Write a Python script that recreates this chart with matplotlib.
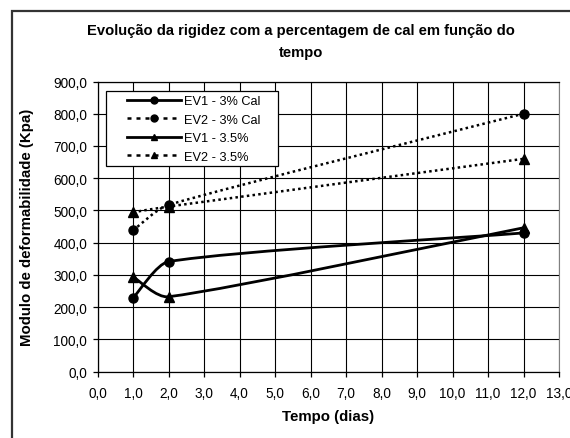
import numpy as np
import matplotlib
matplotlib.use("Agg")
import matplotlib.pyplot as plt
from matplotlib.path import Path
from matplotlib.patches import PathPatch, Rectangle
from matplotlib.lines import Line2D
from matplotlib.ticker import FuncFormatter, MultipleLocator

plt.rcParams['font.family'] = ['Liberation Sans', 'DejaVu Sans']

# tempo (dias) e modulo de deformabilidade (Kpa)
dias = [1, 2, 12]
ev1_3 = [228, 341, 430]
ev2_3 = [438, 517, 800]
ev1_35 = [294, 232, 446]
ev2_35 = [494, 512, 660]

series = [
    ("EV1 - 3% Cal", ev1_3, 'o', 'solid'),
    ("EV2 - 3% Cal", ev2_3, 'o', 'dotted'),
    ("EV1 - 3.5%", ev1_35, '^', 'solid'),
    ("EV2 - 3.5%", ev2_35, '^', 'dotted'),
]

W, H = 570, 439
fig = plt.figure(figsize=(W / 100, H / 100), dpi=100)
ax = fig.add_axes([97.5 / W, (H - 372.5) / H, (559 - 97.5) / W, 290 / H])
ax.set_xlim(0, 13)
ax.set_ylim(0, 900)

# pixel scale of each axis, used so the smoothing works in screen space
sx = (559 - 97.5) / 13.0
sy = 290 / 900.0


def smooth_path(xs, ys):
    # piecewise cubic bezier through the points (spreadsheet style smoothing)
    P = np.column_stack([np.array(xs, float) * sx, np.array(ys, float) * sy])
    n = len(P)
    verts = [P[0]]
    codes = [Path.MOVETO]
    for i in range(n - 1):
        p0 = P[max(i - 1, 0)]
        p1 = P[i]
        p2 = P[i + 1]
        p3 = P[min(i + 2, n - 1)]
        dx = p2[0] - p1[0]
        d1 = (p2 - p0) / 6.0
        d2 = (p3 - p1) / 6.0
        # keep control points inside the segment horizontally
        if abs(d1[0]) > dx / 3:
            d1 = d1 * (dx / 3) / abs(d1[0])
        if abs(d2[0]) > dx / 3:
            d2 = d2 * (dx / 3) / abs(d2[0])
        c1 = p1 + d1
        c2 = p2 - d2
        verts += [c1, c2, p2]
        codes += [Path.CURVE4] * 3
    verts = np.array(verts) / np.array([sx, sy])
    return Path(verts, codes)


dot_style = (0, (1.0, 1.3))
handles = []
for label, vals, mk, style in series:
    ls = '-' if style == 'solid' else dot_style
    lw = 2.0 if style == 'solid' else 1.8
    patch = PathPatch(smooth_path(dias, vals), fill=False, edgecolor='black',
                      linewidth=lw, linestyle=ls, zorder=3, capstyle='butt')
    ax.add_patch(patch)
    ax.plot(dias, vals, linestyle='none', marker=mk, color='black',
            markersize=6.5, zorder=4)
    handles.append(Line2D([], [], color='black', linewidth=lw,
                          linestyle='-' if style == 'solid' else (0, (1.6, 2.0)),
                          marker=mk, markersize=5, label=label))

ax.xaxis.set_major_locator(MultipleLocator(1))
ax.yaxis.set_major_locator(MultipleLocator(100))
ax.xaxis.set_major_formatter(FuncFormatter(lambda v, p: f"{v:.1f}".replace('.', ',')))
ax.yaxis.set_major_formatter(FuncFormatter(lambda v, p: f"{v:.1f}".replace('.', ',')))
ax.grid(True, color='black', linewidth=0.8)
ax.set_axisbelow(True)
ax.tick_params(direction='out', length=3.5, width=0.9, labelsize=9.8)
ax.tick_params(axis='x', pad=7)
ax.tick_params(axis='y', pad=4)
for s in ['left', 'bottom', 'top']:
    ax.spines[s].set_linewidth(0.9)
ax.spines['right'].set_color('#808080')

ax.set_xlabel("Tempo (dias)", fontsize=10.8, fontweight='bold')
ax.set_ylabel("Modulo de deformabilidade (Kpa)", fontsize=10.8, fontweight='bold')
ax.xaxis.set_label_coords(0.5, -(410 - 372.5) / 290)
ax.yaxis.set_label_coords(-(97.5 - 34) / 461.5, 0.5)

fig.text(301 / W, 1 - 42 / H,
         "Evolução da rigidez com a percentagem de cal em função do\ntempo",
         ha='center', va='center', fontsize=10.6, fontweight='bold',
         linespacing=1.75)

# legend box drawn by hand so the padding is wider on the left
box = Rectangle((106 / W, 1 - 167 / H), (278 - 106) / W, (167 - 92) / H,
                transform=fig.transFigure, facecolor='white', edgecolor='black',
                linewidth=0.9, zorder=4.5, clip_on=False)
ax.add_patch(box)
leg = ax.legend(handles=handles, loc='upper left',
                bbox_to_anchor=(127 / W, 1 - 96 / H), bbox_transform=fig.transFigure,
                fontsize=9.2, frameon=False, handlelength=4.2, handletextpad=0.25,
                labelspacing=0.52, borderpad=0, borderaxespad=0)
leg.set_zorder(5)

# chart area border
fig.add_artist(Rectangle((12 / W, -0.2), 2.0, 1.2 - 12 / H, transform=fig.transFigure,
                         fill=False, edgecolor='#333333', linewidth=1.6))

fig.savefig("out.png", dpi=100)
